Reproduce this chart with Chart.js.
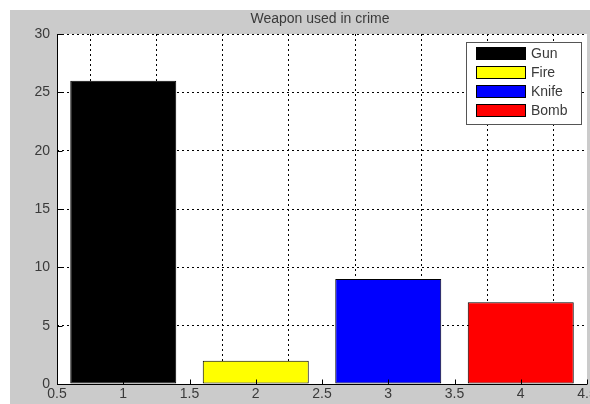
<!DOCTYPE html>
<html>
<head>
<meta charset="utf-8">
<script src="https://cdn.jsdelivr.net/npm/chart.js@4/dist/chart.umd.min.js"></script>
<style>
  html, body { margin: 0; padding: 0; background: #ffffff; }
  #wrap { width: 590px; height: 404px; position: relative; }
  canvas { display: block; }
</style>
</head>
<body>
<div id="wrap"><canvas id="c" width="590" height="404"></canvas></div>
<script>
// Weapon categories, their positions on the x axis and counts
const weapons = ['Gun', 'Fire', 'Knife', 'Bomb'];
const positions = [1, 2, 3, 4];
const counts = [26, 2, 9, 7];
const colors = ['#000000', '#ffff00', '#0000ff', '#ff0000'];
const xTicks = [0.5, 1, 1.5, 2, 2.5, 3, 3.5, 4, 4.5];
const yTicks = [0, 5, 10, 15, 20, 25, 30];
const title = 'Weapon used in crime';

const FONT = '"Liberation Sans", Arial, sans-serif';
const FONT_SIZE = 14;
const TEXT = '#3a3a3a';

// Figure background, title, solid axis lines, inward tick marks and the boxed legend
const figurePlugin = {
  id: 'figure',
  beforeDraw(chart) {
    const ctx = chart.ctx;
    ctx.save();
    ctx.fillStyle = '#ffffff';
    ctx.fillRect(0, 0, chart.width, chart.height);
    ctx.fillStyle = '#cbcbcb';
    ctx.fillRect(10, 10, chart.width - 10, chart.height - 10);
    const a = chart.chartArea;
    ctx.fillStyle = '#ffffff';
    ctx.fillRect(a.left, a.top, a.right - a.left, a.bottom - a.top);
    ctx.restore();
  },
  afterDraw(chart) {
    const ctx = chart.ctx;
    const a = chart.chartArea;
    const xs = chart.scales.x, ys = chart.scales.y;
    ctx.save();
    // title
    ctx.fillStyle = TEXT;
    ctx.font = FONT_SIZE + 'px ' + FONT;
    ctx.textAlign = 'center';
    ctx.textBaseline = 'middle';
    ctx.fillText(title, 320, 19);
    // solid left and bottom axis lines with inward tick marks
    ctx.strokeStyle = '#000000';
    ctx.lineWidth = 1;
    ctx.setLineDash([]);
    ctx.beginPath();
    const L = Math.round(a.left) + 0.5, B = Math.round(a.bottom) + 0.5;
    ctx.moveTo(L, a.top); ctx.lineTo(L, B); ctx.lineTo(a.right, B);
    yTicks.forEach(v => {
      const y = Math.round(ys.getPixelForValue(v)) + 0.5;
      ctx.moveTo(L, y); ctx.lineTo(L + 5, y);
    });
    xTicks.forEach(v => {
      const x = Math.round(xs.getPixelForValue(v)) + 0.5;
      ctx.moveTo(x, B); ctx.lineTo(x, B - 5);
    });
    ctx.stroke();
    // legend
    const lx = 466, ly = 42, lw = 115, lh = 82;
    ctx.fillStyle = '#ffffff';
    ctx.fillRect(lx, ly, lw, lh);
    ctx.strokeStyle = '#555555';
    ctx.strokeRect(lx + 0.5, ly + 0.5, lw, lh);
    ctx.font = FONT_SIZE + 'px ' + FONT;
    ctx.textAlign = 'left';
    ctx.textBaseline = 'middle';
    chart.data.datasets.forEach((ds, i) => {
      const cy = 53 + i * 19;
      ctx.fillStyle = ds.backgroundColor;
      ctx.fillRect(476, cy - 6, 50, 13);
      ctx.strokeStyle = '#000000';
      ctx.strokeRect(476.5, cy - 5.5, 49, 12);
      ctx.fillStyle = TEXT;
      ctx.fillText(ds.label, 531, cy + 1);
    });
    ctx.restore();
  }
};

// One dataset per weapon; the bar ruler follows the 0.5 tick spacing,
// so 1.6 of it gives a bar 0.8 units wide.
const datasets = weapons.map((w, i) => ({
  label: w,
  data: [{ x: positions[i], y: counts[i] }],
  backgroundColor: colors[i],
  borderColor: '#000000',
  borderWidth: 1,
  borderSkipped: false,
  barPercentage: 1.6,
  categoryPercentage: 1.0,
  grouped: false
}));

new Chart(document.getElementById('c'), {
  type: 'bar',
  data: { datasets },
  options: {
    responsive: false,
    animation: false,
    layout: { padding: { left: 0, top: 34, right: 3, bottom: 0 } },
    plugins: { legend: { display: false }, title: { display: false }, tooltip: { enabled: false } },
    scales: {
      x: {
        type: 'linear',
        min: 0.5, max: 4.5,
        offset: false,
        afterBuildTicks(s) { s.ticks = xTicks.map(v => ({ value: v })); },
        afterFit(s) { s.height = 20; s.paddingLeft = 0; s.paddingRight = 0; },
        grid: { color: '#000000', lineWidth: 1, drawTicks: false },
        border: { display: false, dash: [2, 3] },
        ticks: {
          autoSkip: false, maxRotation: 0, padding: 2,
          color: TEXT, font: { size: FONT_SIZE, family: FONT },
          callback: v => String(v)
        }
      },
      y: {
        min: 0, max: 30,
        afterBuildTicks(s) { s.ticks = yTicks.map(v => ({ value: v })); },
        afterFit(s) { s.width = 57; s.paddingTop = 0; s.paddingBottom = 0; },
        grid: { color: '#000000', lineWidth: 1, drawTicks: false },
        border: { display: false, dash: [2, 3] },
        ticks: {
          padding: 7,
          color: TEXT, font: { size: FONT_SIZE, family: FONT }
        }
      }
    }
  },
  plugins: [figurePlugin]
});
</script>
</body>
</html>
